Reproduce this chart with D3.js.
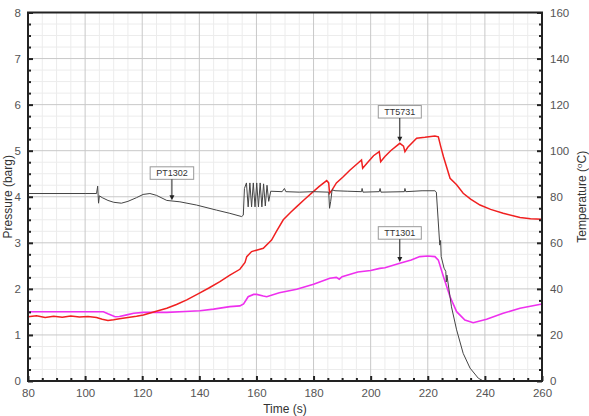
<!DOCTYPE html>
<html><head><meta charset="utf-8">
<script src="https://cdn.jsdelivr.net/npm/d3@7"></script>
<style>
html,body{margin:0;padding:0;background:#fff;}
svg text{font-family:"Liberation Sans",Arial,sans-serif;}
</style></head>
<body><svg id="chart" width="589" height="416"></svg>
<script>
// ---- data ----
const xTicks = [80,100,120,140,160,180,200,220,240,260];
const pressureTicks = [0,1,2,3,4,5,6,7,8];
const tempTicks = [0,20,40,60,80,100,120,140,160];

// PT1302 pressure (barg)
const ptTime = [80,100,104,104.4,104.7,105,106,108,110,112.7,115,118,120.3,122.7,125,128.6,133.2,139,146,150.7,154.8,155.4,155.8,156.5,157.1,157.7,158.3,158.9,159.5,160.1,160.7,161.3,161.9,162.5,163.1,163.7,164.3,165,169,169.8,170.3,175,180,185.3,185.6,186,186.5,187.5,192,196.8,197,197.3,203,203.3,203.6,211.8,212,212.3,218,222.5,223,224.2,224.5,224.7,225.7,226.3,226.5,226.7,228.3,230.1,232.4,234.8,237.7,239.5];
const ptVals = [4.07,4.07,4.07,4.23,3.86,4.02,3.98,3.92,3.88,3.86,3.9,3.98,4.05,4.07,4.03,3.92,3.89,3.82,3.71,3.64,3.57,3.6,4.18,4.3,3.78,4.3,3.78,4.3,3.78,4.3,3.78,4.3,3.78,4.28,3.8,4.25,3.9,4.12,4.11,4.18,4.11,4.1,4.11,4.1,3.75,3.9,4.15,4.13,4.12,4.11,4.18,4.1,4.11,4.18,4.1,4.11,4.18,4.11,4.13,4.13,4.1,2.95,3.05,2.7,2.45,2.38,2.15,2.3,1.61,1.11,0.6,0.28,0.06,0];

// TT5731 temperature (°C)
const tt5731Time = [80,83,86,89,92,95,98,101,104,106,108,110,112,115,118,120.4,124,128.6,132,135.6,140.2,143.5,147.2,150.7,154.2,156,156.6,158.3,160,162.4,165.3,167,169.4,172,174.1,177,179.9,182,184.6,185.3,185.6,186.5,188,190.4,192.7,195,196.8,197.2,199,201,203,203.5,205,207,210.2,211.5,212,213,216.1,219,222.5,223.7,224.5,225.5,227.8,230.1,232.4,235,238.3,242,246.4,252.3,256,260];
const tt5731Vals = [27.9,28.3,27.6,28.1,27.7,28.2,27.8,28.0,27.6,26.8,26.3,26.6,27.0,27.6,28.1,28.7,30.0,31.6,33.2,35.2,38.3,40.5,43.1,46.0,48.5,51.5,54.0,56.2,56.8,57.6,61.2,65.0,70.0,73.3,75.7,79.0,82.2,84.5,87.0,86.0,81.5,83.0,86.0,88.7,91.5,94.0,96.0,92.4,95.0,97.8,99.6,95.2,97.5,100.0,103.2,102.0,99.6,101.5,105.4,105.8,106.4,106.0,102.0,97.4,88.0,85.2,81.5,79.0,76.4,74.5,72.8,71.0,70.5,70.2];

// TT1301 temperature (°C)
const tt1301Time = [80,90,100,106.4,108,110.5,112,114.6,117,120.4,125,128.6,135,140.2,145,150.7,154.2,155.5,157.1,159,160.1,162.4,163.6,168,174.1,180,185.7,188,189,190,195.5,200,203.2,205,210.2,214.2,217.2,220,222.5,223.7,225.5,227.8,230.1,233,235.9,240.6,246.4,252.3,260];
const tt1301Vals = [30.1,30.1,30.1,30.1,29.2,27.9,28.0,28.7,29.4,29.8,29.8,29.8,30.2,30.5,31.2,32.3,32.6,33.5,36.6,37.6,37.6,36.9,36.6,38.3,39.8,42.0,44.6,45.0,44.2,45.3,47.3,48.0,48.9,49.2,51.1,52.5,54.0,54.3,54.0,52.5,45.3,36.6,30.1,26.5,25.3,26.8,29.4,31.6,33.4];

// annotations
const labelNames = ["PT1302","TT5731","TT1301"];
const labelTimes = [130.4,210.2,210.2];
const labelAxis = ["p","t","t"];
const labelTargets = [3.9,103.4,51.2];
const labelBoxTop = [4.65,5.98,3.35]; // in pressure units

// ---- drawing ----
const svg = d3.select("#chart");
const m = {l:28, r:47, t:12.5, b:35};
const W = 589, H = 416;
const x = d3.scaleLinear().domain([80,260]).range([m.l, W-m.r]);
const yP = d3.scaleLinear().domain([0,8]).range([H-m.b, m.t]);
const yT = d3.scaleLinear().domain([0,160]).range([H-m.b, m.t]);

const grid = svg.append("g");
// minor grid
d3.range(80,261,5).forEach(v=>{ if(v%20) grid.append("line").attr("x1",x(v)).attr("x2",x(v)).attr("y1",yP(0)).attr("y2",yP(8)).attr("stroke","#ececec").attr("stroke-width",1);});
d3.range(0,8.01,0.25).forEach(v=>{ if(Math.abs(v-Math.round(v))>0.01) grid.append("line").attr("y1",yP(v)).attr("y2",yP(v)).attr("x1",x(80)).attr("x2",x(260)).attr("stroke","#ececec").attr("stroke-width",1);});
// major grid
xTicks.forEach(v=>grid.append("line").attr("x1",x(v)).attr("x2",x(v)).attr("y1",yP(0)).attr("y2",yP(8)).attr("stroke","#c8c8c8").attr("stroke-width",1));
pressureTicks.forEach(v=>grid.append("line").attr("y1",yP(v)).attr("y2",yP(v)).attr("x1",x(80)).attr("x2",x(260)).attr("stroke","#c8c8c8").attr("stroke-width",1));

// lines
const lineP = d3.line().x((d,i)=>x(ptTime[i])).y(d=>yP(d));
const lineT = (times)=>d3.line().x((d,i)=>x(times[i])).y(d=>yT(d));
svg.append("path").datum(tt1301Vals).attr("d",lineT(tt1301Time)).attr("fill","none").attr("stroke","#ee30ee").attr("stroke-width",1.6);
svg.append("path").datum(tt5731Vals).attr("d",lineT(tt5731Time)).attr("fill","none").attr("stroke","#f02020").attr("stroke-width",1.5);
svg.append("path").datum(ptVals).attr("d",lineP).attr("fill","none").attr("stroke","#444").attr("stroke-width",1);

// axes
function styleAxis(g){
  g.select(".domain").remove();
  g.selectAll(".tick line").attr("stroke","#222").attr("stroke-width",2);
  g.selectAll("text").attr("fill","#555").attr("font-size","11.5px");
}
const bottom = svg.append("g").attr("transform",`translate(0,${H-m.b})`)
  .call(d3.axisBottom(x).tickValues(xTicks).tickSizeInner(-5).tickSizeOuter(0).tickPadding(8));
styleAxis(bottom);
const bottomMinor = svg.append("g").attr("transform",`translate(0,${H-m.b})`)
  .call(d3.axisBottom(x).tickValues(d3.range(85,260,5).filter(v=>v%20)).tickSizeInner(-3).tickSizeOuter(0).tickFormat(""));
styleAxis(bottomMinor);
const left = svg.append("g").attr("transform",`translate(${m.l},0)`)
  .call(d3.axisLeft(yP).tickValues(pressureTicks).tickSizeInner(-5).tickSizeOuter(0).tickPadding(7));
styleAxis(left);
const leftMinor = svg.append("g").attr("transform",`translate(${m.l},0)`)
  .call(d3.axisLeft(yP).tickValues(d3.range(0.25,8,0.25).filter(v=>Math.abs(v-Math.round(v))>0.01)).tickSizeInner(-3).tickSizeOuter(0).tickFormat(""));
styleAxis(leftMinor);
const right = svg.append("g").attr("transform",`translate(${W-m.r},0)`)
  .call(d3.axisRight(yT).tickValues(tempTicks).tickSizeInner(-5).tickSizeOuter(0).tickPadding(8));
styleAxis(right);
const rightMinor = svg.append("g").attr("transform",`translate(${W-m.r},0)`)
  .call(d3.axisRight(yT).tickValues(d3.range(5,160,5).filter(v=>v%20)).tickSizeInner(-3).tickSizeOuter(0).tickFormat(""));
styleAxis(rightMinor);

// frame
svg.append("rect").attr("x",x(80)).attr("y",yP(8)).attr("width",x(260)-x(80)).attr("height",yP(0)-yP(8))
  .attr("fill","none").attr("stroke","#222").attr("stroke-width",2);

// annotations
labelNames.forEach((name,i)=>{
  const cx = x(labelTimes[i]);
  const ty = labelAxis[i]==="p" ? yP(labelTargets[i]) : yT(labelTargets[i]);
  const top = yP(labelBoxTop[i]);
  const g = svg.append("g");
  const t = g.append("text").attr("x",cx).attr("y",top+9.5).attr("text-anchor","middle")
    .attr("font-size","9px").attr("fill","#333").text(name);
  const bb = t.node().getBBox();
  const bw = bb.width+12, bh = 12.5;
  g.insert("rect","text").attr("x",cx-bw/2).attr("y",top).attr("width",bw).attr("height",bh)
    .attr("fill","#fff").attr("stroke","#999").attr("stroke-width",1);
  g.append("line").attr("x1",cx).attr("x2",cx).attr("y1",top+bh).attr("y2",ty-4).attr("stroke","#222").attr("stroke-width",1);
  g.append("path").attr("d",`M${cx-2.5},${ty-6} L${cx+2.5},${ty-6} L${cx},${ty-1} Z`).attr("fill","#222");
});

// axis titles
svg.append("text").attr("x",(x(80)+x(260))/2).attr("y",413).attr("text-anchor","middle")
  .attr("font-size","12px").attr("fill","#333").text("Time (s)");
svg.append("text").attr("transform",`translate(12,${(yP(0)+yP(8))/2}) rotate(-90)`).attr("text-anchor","middle")
  .attr("font-size","12px").attr("fill","#333").text("Pressure (barg)");
const tt = svg.append("text").attr("transform",`translate(586,${(yP(0)+yP(8))/2}) rotate(-90)`).attr("text-anchor","middle")
  .attr("font-size","12px").attr("fill","#333");
tt.append("tspan").text("Temperature (");
tt.append("tspan").attr("font-size","8px").attr("dy","-4").text("o");
tt.append("tspan").attr("dy","4").text("C)");
</script></body></html>
